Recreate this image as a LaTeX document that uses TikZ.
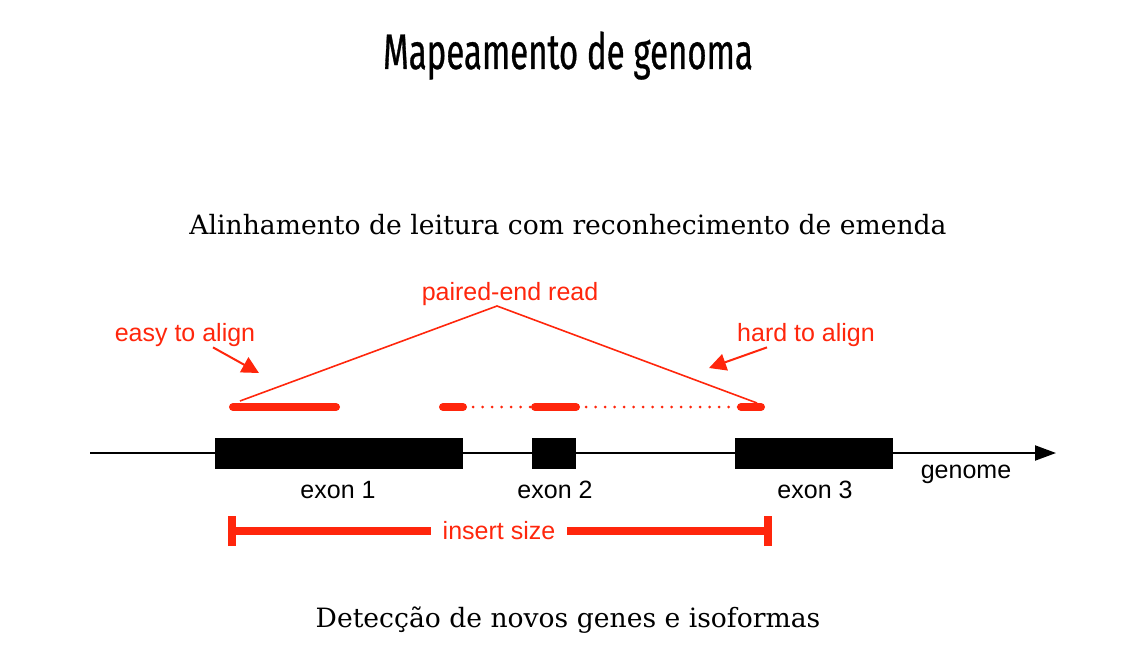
\documentclass[tikz,border=0pt]{standalone}
\usepackage{fontspec}
\setmainfont{DejaVu Serif}
\newfontfamily\labelfont{Liberation Sans}
\newfontfamily\titlefont[FakeStretch=0.66, FakeBold=0.6]{Fira Sans}
\usetikzlibrary{arrows.meta, positioning}
\definecolor{readred}{RGB}{255,38,12}

\begin{document}
\begin{tikzpicture}[x=1pt, y=-1pt,
    exon/.style={rectangle, fill=black, inner sep=0pt, minimum height=31pt},
    lbl/.style={font=\labelfont\fontsize{25}{25}\selectfont, inner sep=0pt, anchor=base},
    redlbl/.style={lbl, text=readred},
    read/.style={readred, line width=8pt, line cap=round},
    gap/.style={readred, line width=3pt, line cap=round, dash pattern=on 0pt off 9.5pt},
    pointer/.style={readred, line width=2pt, -{Triangle[length=17pt, width=17pt]}}]
    \useasboundingbox (0,0) rectangle (1139,655);

    % Titles
    \node[anchor=base, inner sep=0pt, font=\titlefont\fontsize{50}{50}\selectfont] (title) at (568,69) {Mapeamento de genoma};
    \node[anchor=base, inner sep=0pt, font=\fontsize{26.6}{26.6}\selectfont] (top) at (568,234) {Alinhamento de leitura com reconhecimento de emenda};
    \node[anchor=base, inner sep=0pt, font=\fontsize{26.6}{26.6}\selectfont] (bottom) at (568,627) {Detecção de novos genes e isoformas};

    % Genome axis
    \coordinate (g0) at (90,453);
    \coordinate (g1) at (1056,453);
    \draw[line width=2pt, -{Triangle[length=21pt, width=15pt]}] (g0) -- (g1);
    \node[lbl] (genome) at (966,478) {genome};

    % Exons
    \node[exon, minimum width=248pt] (E1) at (339,453) {};
    \node[exon, minimum width=44pt] (E2) at (554,453) {};
    \node[exon, minimum width=158pt] (E3) at (814,453) {};
    \foreach \j/\x in {1/338, 2/555, 3/815} {
        \node[lbl] (L\j) at (\x,498) {exon \j};
    }

    % Reads
    \coordinate (r1a) at (233,407);
    \coordinate (r1b) at (336,407);
    \coordinate (r2a) at (443,407);
    \coordinate (r2b) at (463,407);
    \coordinate (r3a) at (535,407);
    \coordinate (r3b) at (576,407);
    \coordinate (r4a) at (741,407);
    \coordinate (r4b) at (761,407);
    \foreach \i in {1,...,4} {
        \draw[read] (r\i a) -- (r\i b);
    }
    \draw[gap] (r2b) ++(10,0) -- (r3a);
    \draw[gap] (r3b) ++(10,0) -- (r4a);

    % Paired-end read
    \node[redlbl] (pair) at (510,300) {paired-end read};
    \coordinate (apex) at (497,306);
    \coordinate (left) at (240,401);
    \coordinate (right) at (757,403);
    \draw[readred, line width=1.6pt] (left) -- (apex) -- (right);

    % Easy / hard
    \node[redlbl] (easy) at (185,341) {easy to align};
    \node[redlbl] (hard) at (806,341) {hard to align};
    \coordinate (easytip) at (259,373);
    \coordinate (hardtip) at (709,368);
    \draw[pointer] (easy.south) ++(28,1) -- (easytip);
    \draw[pointer] (hard.south) ++(-39,1) -- (hardtip);

    % Insert size
    \node[redlbl] (insert) at (499,539) {insert size};
    \coordinate (ia) at (232,531);
    \coordinate (ib) at (768,531);
    \draw[readred, line width=8pt] (ia) -- ([xshift=-12pt]insert.west |- ia);
    \draw[readred, line width=8pt] ([xshift=12pt]insert.east |- ib) -- (ib);
    \draw[readred, line width=8pt] ([yshift=-15pt]ia) -- ([yshift=15pt]ia);
    \draw[readred, line width=8pt] ([yshift=-15pt]ib) -- ([yshift=15pt]ib);
\end{tikzpicture}
\end{document}
